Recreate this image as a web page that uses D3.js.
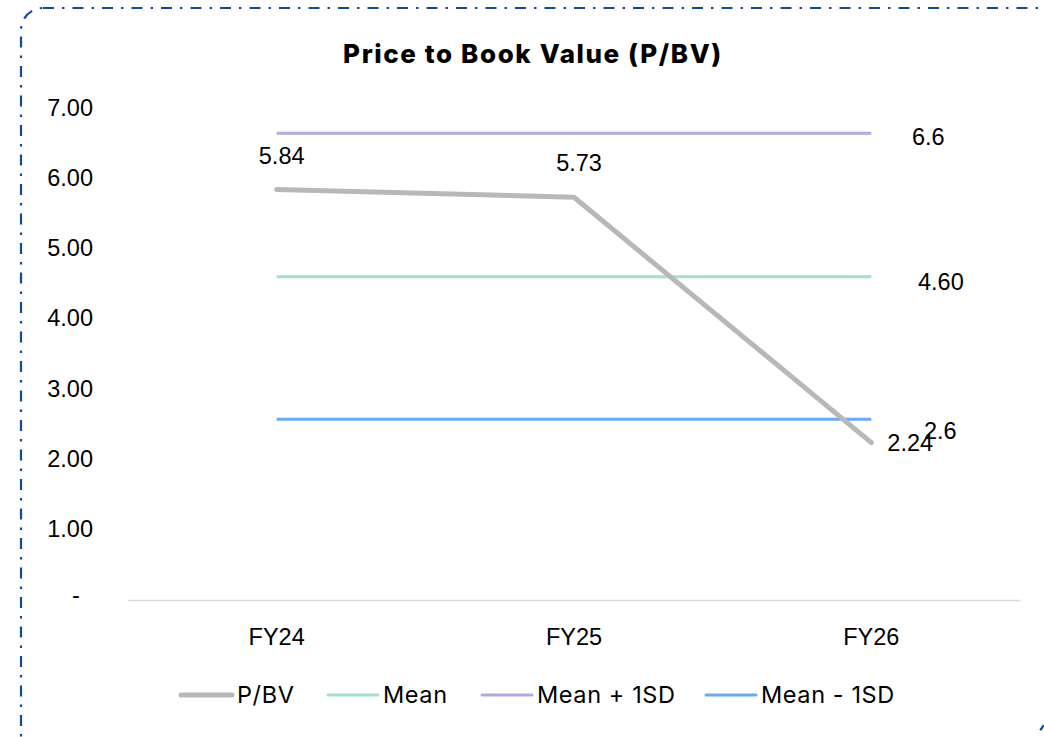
<!DOCTYPE html>
<html><head><meta charset="utf-8">
<script src="https://cdn.jsdelivr.net/npm/d3@7"></script>
<style>
html,body{margin:0;padding:0;background:#fff;}
svg{display:block;}
</style></head>
<body>
<svg id="chart" width="1044" height="737"></svg>
<script>
const categories = ["FY24", "FY25", "FY26"];
const pbv = [5.84, 5.73, 2.24];
const pbvLabels = ["5.84", "5.73", "2.24"];
const meanVal = 4.60;
const meanPlus = 6.64;
const meanMinus = 2.57;
const refLabels = ["4.60", "6.6", "2.6"];
const yTicks = [0, 1, 2, 3, 4, 5, 6, 7];
const yTickLabels = ["-", "1.00", "2.00", "3.00", "4.00", "5.00", "6.00", "7.00"];
const legendNames = ["P/BV", "Mean", "Mean + 1SD", "Mean - 1SD"];

const colors = {pbv:"#b8b8b8", mean:"#a6dfcb", plus:"#b3a9e2", minus:"#6aaaf5"};

const svg = d3.select("#chart");

// border (right and bottom edges run off the canvas)
const borderColor = "#0f4c94";
svg.append("rect")
  .attr("x", 21).attr("y", 8).attr("width", 1060).attr("height", 770)
  .attr("rx", 22).attr("ry", 22)
  .attr("fill", "none").attr("stroke", borderColor).attr("stroke-width", 2.2)
  .attr("stroke-dasharray", "11,8,2.5,8");
// small visible piece of another corner at bottom right
svg.append("path")
  .attr("d", "M1046,716 Q1044,733 1026,740")
  .attr("fill", "none").attr("stroke", borderColor).attr("stroke-width", 2.2)
  .attr("stroke-dasharray", "2.5,7,6,30");

// title
svg.append("text").attr("x", 533).attr("y", 63).attr("text-anchor", "middle")
  .attr("font-family", "Inter, 'Open Sans', sans-serif").attr("font-weight", 800)
  .attr("font-size", 26).attr("letter-spacing", 1.6).attr("fill", "#000").text("Price to Book Value (P/BV)");

const x = d3.scaleBand().domain(categories).range([128, 1020]);
const y = d3.scaleLinear().domain([0, 7]).range([600, 108]);
const cx = d => x(d) + x.bandwidth() / 2;
const font = "'Liberation Sans', Arial, sans-serif";
const fs = 23.5;

// y axis labels
const yAxis = d3.axisLeft(y).tickValues(yTicks).tickFormat((d, i) => yTickLabels[i]).tickSize(0).tickPadding(0);
const yg = svg.append("g").attr("transform", "translate(93,0)").call(yAxis);
yg.select(".domain").remove();
yg.selectAll("text").attr("font-family", font).attr("font-size", fs).attr("fill", "#000")
  .attr("dy", (d) => d === 0 ? "0.1em" : "0.3em")
  .attr("text-anchor", (d) => d === 0 ? "middle" : "end")
  .attr("x", (d) => d === 0 ? -17 : 0);

// x axis
const xAxis = d3.axisBottom(x).tickSize(0).tickPadding(0);
const xg = svg.append("g").attr("transform", "translate(0,600)").call(xAxis);
xg.select(".domain").attr("stroke", "#d9d9d9").attr("stroke-width", 1.3);
xg.selectAll("text").attr("font-family", font).attr("font-size", fs).attr("fill", "#000").attr("y", 28);

// reference lines
const refs = [
  {v: meanPlus, c: colors.plus, label: refLabels[1], lx: 912, dy: 12},
  {v: meanVal, c: colors.mean, label: refLabels[0], lx: 918, dy: 13},
  {v: meanMinus, c: colors.minus, label: refLabels[2], lx: 924, dy: 20}
];
const line = d3.line().x(d => cx(d[0])).y(d => y(d[1]));
refs.forEach(r => {
  svg.append("path").datum(categories.map(c => [c, r.v]))
    .attr("d", line).attr("fill", "none").attr("stroke", r.c).attr("stroke-width", 3);
});

// P/BV line
svg.append("path").datum(categories.map((c, i) => [c, pbv[i]]))
  .attr("d", line).attr("fill", "none").attr("stroke", colors.pbv)
  .attr("stroke-width", 5).attr("stroke-linecap", "round").attr("stroke-linejoin", "round");

// P/BV labels
categories.forEach((c, i) => {
  const last = i === categories.length - 1;
  svg.append("text")
    .attr("x", last ? cx(c) + 16 : cx(c) + 5)
    .attr("y", last ? y(pbv[i]) + 8 : y(pbv[i]) - 26)
    .attr("text-anchor", last ? "start" : "middle")
    .attr("font-family", font).attr("font-size", fs).attr("fill", "#000")
    .text(pbvLabels[i]);
});

// ref labels
refs.forEach(r => {
  svg.append("text").attr("x", r.lx).attr("y", y(r.v) + r.dy)
    .attr("font-family", font).attr("font-size", fs).attr("fill", "#000").text(r.label);
});

// legend
const legendItems = [
  {name: legendNames[0], c: colors.pbv, w: 5, x0: 181, x1: 232},
  {name: legendNames[1], c: colors.mean, w: 3, x0: 328, x1: 378},
  {name: legendNames[2], c: colors.plus, w: 3, x0: 482, x1: 532},
  {name: legendNames[3], c: colors.minus, w: 3, x0: 706, x1: 756}
];
const lg = svg.append("g");
legendItems.forEach(it => {
  lg.append("line").attr("x1", it.x0).attr("x2", it.x1).attr("y1", 695).attr("y2", 695)
    .attr("stroke", it.c).attr("stroke-width", it.w).attr("stroke-linecap", "round");
  lg.append("text").attr("x", it.x1 + 5).attr("y", 703)
    .attr("font-family", "Inter, 'Noto Sans', sans-serif").attr("font-size", 23.5)
    .attr("letter-spacing", 0.6).attr("fill", "#000")
    .text(it.name);
});
</script>
</body></html>
